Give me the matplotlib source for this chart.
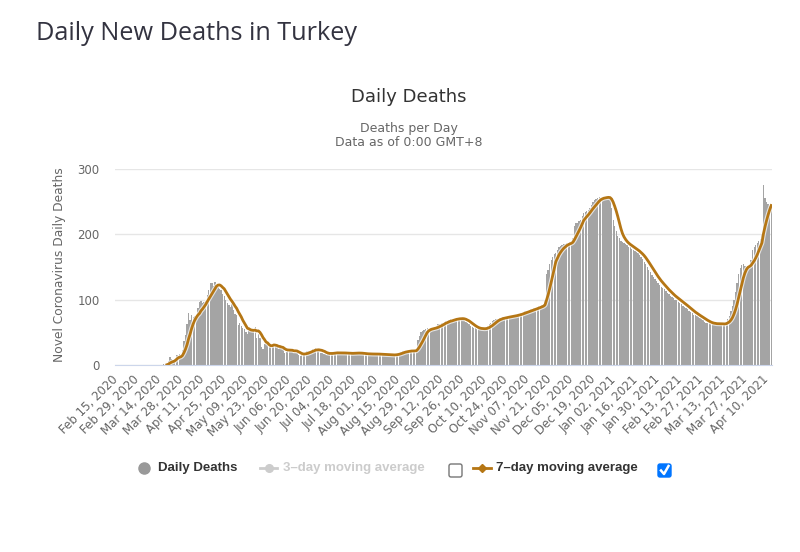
import numpy as np
import pandas as pd
import matplotlib
matplotlib.use('Agg')
import matplotlib.pyplot as plt
import matplotlib.patheffects as pe
from matplotlib.lines import Line2D
from matplotlib.patches import FancyBboxPatch
from matplotlib.transforms import IdentityTransform

# daily deaths
start_date = '2020-02-15'
avg_start = '2020-03-19'  # first day the 7-day line is drawn
feb_2020 = [0, 0, 0, 0, 0, 0, 0, 0, 0, 0, 0, 0, 0, 0, 0]
mar_2020 = [0, 0, 0, 0, 0, 0, 0, 0, 0, 0, 0, 0, 0, 0, 0, 0,
            1, 1, 1, 6, 12, 9, 7, 7, 15, 16, 17, 16, 23, 37, 46]
apr_2020 = [63, 79, 69, 76, 73, 75, 76, 87, 96, 98, 95, 97, 98, 107, 115,
            125, 126, 121, 127, 123, 119, 117, 115, 109, 106, 99, 95, 92, 89, 93]
may_2020 = [84, 78, 76, 61, 64, 59, 57, 55, 50, 47, 56, 53, 55, 55, 58, 41,
            48, 41, 28, 24, 32, 32, 32, 29, 30, 28, 32, 30, 28, 24, 26]
jun_2020 = [24, 24, 19, 20, 24, 23, 25, 23, 18, 19, 18, 16, 14, 16, 17,
            18, 22, 22, 22, 21, 24, 23, 26, 24, 23, 19, 18, 17, 17, 16]
jul_2020 = [18, 19, 19, 18, 19, 19, 18, 18, 19, 19, 18, 18, 18, 17, 17, 18,
            19, 19, 19, 18, 18, 17, 17, 17, 17, 17, 17, 17, 16, 17, 17]
aug_2020 = [17, 17, 16, 16, 16, 16, 16, 16, 15, 15, 15, 15, 16, 17, 18, 19,
            20, 21, 21, 22, 21, 21, 22, 22, 21, 22, 24, 38, 45, 50, 52]
sep_2020 = [53, 55, 56, 55, 56, 57, 56, 57, 60, 62, 63, 65, 64, 66, 67,
            68, 69, 70, 69, 70, 71, 72, 71, 72, 71, 70, 68, 66, 64, 62]
oct_2020 = [60, 58, 57, 56, 55, 55, 55, 56, 56, 56, 57, 59, 62, 65, 67, 69,
            70, 71, 71, 72, 72, 73, 73, 74, 74, 75, 75, 75, 76, 77, 77]
nov_2020 = [78, 79, 80, 81, 82, 83, 83, 84, 85, 86, 87, 88, 89, 90, 91,
            92, 93, 100, 140, 145, 155, 161, 165, 170, 172, 176, 180, 182, 184, 185]
dec_2020 = [185, 186, 187, 188, 189, 195, 212, 217, 218, 220, 222, 228, 232, 234, 236, 238,
            241, 245, 250, 252, 254, 256, 257, 256, 255, 257, 256, 257, 258, 255, 240]
jan_2021 = [222, 212, 205, 198, 194, 190, 188, 186, 185, 183, 181, 180, 178, 176, 175, 173,
            171, 168, 165, 162, 158, 154, 150, 146, 142, 138, 135, 132, 129, 126, 123]
feb_2021 = [120, 118, 116, 113, 110, 108, 106, 104, 102, 100, 99, 97, 95, 93,
            91, 89, 87, 85, 83, 81, 79, 77, 76, 75, 73, 72, 70, 69]
mar_2021 = [66, 65, 64, 64, 63, 63, 64, 63, 62, 63, 64, 63, 62, 63, 66, 70,
            75, 82, 90, 100, 112, 125, 140, 148, 153, 155, 152, 150, 148, 150, 160]
apr_2021 = [176, 180, 183, 186, 190, 193, 200, 275, 255, 250, 246, 243, 240]

deaths = np.array(feb_2020 + mar_2020 + apr_2020 + may_2020 + jun_2020 + jul_2020
                  + aug_2020 + sep_2020 + oct_2020 + nov_2020 + dec_2020
                  + jan_2021 + feb_2021 + mar_2021 + apr_2021)
dates = pd.date_range(start_date, periods=len(deaths), freq='D')
avg7 = pd.Series(deaths, dtype=float).rolling(7, min_periods=1).mean()
avg7[dates < pd.Timestamp(avg_start)] = np.nan

bar_col = '#a4a4a4'
line_col = '#b57614'
W, H = 800, 552

fig = plt.figure(figsize=(W / 100, H / 100), dpi=100)
ax = fig.add_axes([115 / W, 1 - 365 / H, 657 / W, 196 / H])

x = np.arange(len(deaths))
ax.bar(x, deaths, width=0.85, color=bar_col, linewidth=0, zorder=2)
ax.plot(x, avg7, color=line_col, lw=2, zorder=3,
        path_effects=[pe.Stroke(linewidth=3.6, foreground='white', alpha=0.7), pe.Normal()])

ax.set_xlim(-0.5, len(deaths) - 0.5)
ax.set_ylim(0, 300)
ax.set_yticks([0, 100, 200, 300])
ax.grid(axis='y', color='#e6e6e6', lw=1, zorder=0)
ax.set_axisbelow(True)
for s in ['top', 'right', 'left']:
    ax.spines[s].set_visible(False)
ax.spines['bottom'].set_color('#ccd6eb')
ax.spines['bottom'].set_zorder(4)

ax.set_xticks(x[::14])
ax.set_xticklabels(dates[::14].strftime('%b %d, %Y'), rotation=45, ha='right',
                   va='center', rotation_mode='anchor')
ax.tick_params(axis='both', length=0, colors='#666666', labelsize=8.5)
ax.tick_params(axis='x', pad=9)
ax.tick_params(axis='y', pad=11)

# titles
fig.text(36 / W, 1 - 40 / H, 'Daily New Deaths in Turkey', family='Open Sans',
         fontsize=18.2, color='#333340', ha='left', va='baseline')
fig.text(409 / W, 1 - 102 / H, 'Daily Deaths', fontsize=13, color='#333333',
         ha='center', va='baseline')
fig.text(409 / W, 1 - 132 / H, 'Deaths per Day', fontsize=9, color='#666666',
         ha='center', va='baseline')
fig.text(409 / W, 1 - 146 / H, 'Data as of 0:00 GMT+8', fontsize=9, color='#666666',
         ha='center', va='baseline')
fig.text(59 / W, 1 - 265 / H, 'Novel Coronavirus Daily Deaths', fontsize=8.8,
         color='#666666', rotation=90, ha='center', va='center')

# legend
ly = 1 - 468 / H
lfont = dict(family='Liberation Sans', fontweight='bold', fontsize=9.5, va='center')
fig.add_artist(Line2D([144 / W], [ly], marker='o', markersize=8, color='#999999',
                      transform=fig.transFigure))
fig.text(158 / W, ly, 'Daily Deaths', color='#333333', **lfont)
fig.add_artist(Line2D([260 / W, 277 / W], [ly, ly], color='#cccccc', lw=2,
                      transform=fig.transFigure))
fig.add_artist(Line2D([268.5 / W], [ly], marker='o', markersize=5.5, color='#cccccc',
                      transform=fig.transFigure))
fig.text(283 / W, ly, '3–day moving average', color='#cccccc', **lfont)
fig.add_artist(Line2D([473 / W, 491 / W], [ly, ly], color=line_col, lw=2,
                      transform=fig.transFigure))
fig.add_artist(Line2D([482 / W], [ly], marker='D', markersize=4.5, color=line_col,
                      transform=fig.transFigure))
fig.text(496 / W, ly, '7–day moving average', color='#333333', **lfont)

# checkboxes (pixel coordinates)
fig.add_artist(FancyBboxPatch((449, H - 477), 13, 13, boxstyle='round,pad=0,rounding_size=2',
                              facecolor='white', edgecolor='#767676', lw=1,
                              transform=IdentityTransform()))
fig.add_artist(FancyBboxPatch((658, H - 477), 13, 13, boxstyle='round,pad=0,rounding_size=2',
                              facecolor='#0075ff', edgecolor='#0075ff', lw=1,
                              transform=IdentityTransform()))
fig.add_artist(Line2D([661, 664, 668.5], [H - 470.5, H - 474, H - 466],
                      color='white', lw=1.8, transform=IdentityTransform()))

fig.savefig('out.png', dpi=100)
